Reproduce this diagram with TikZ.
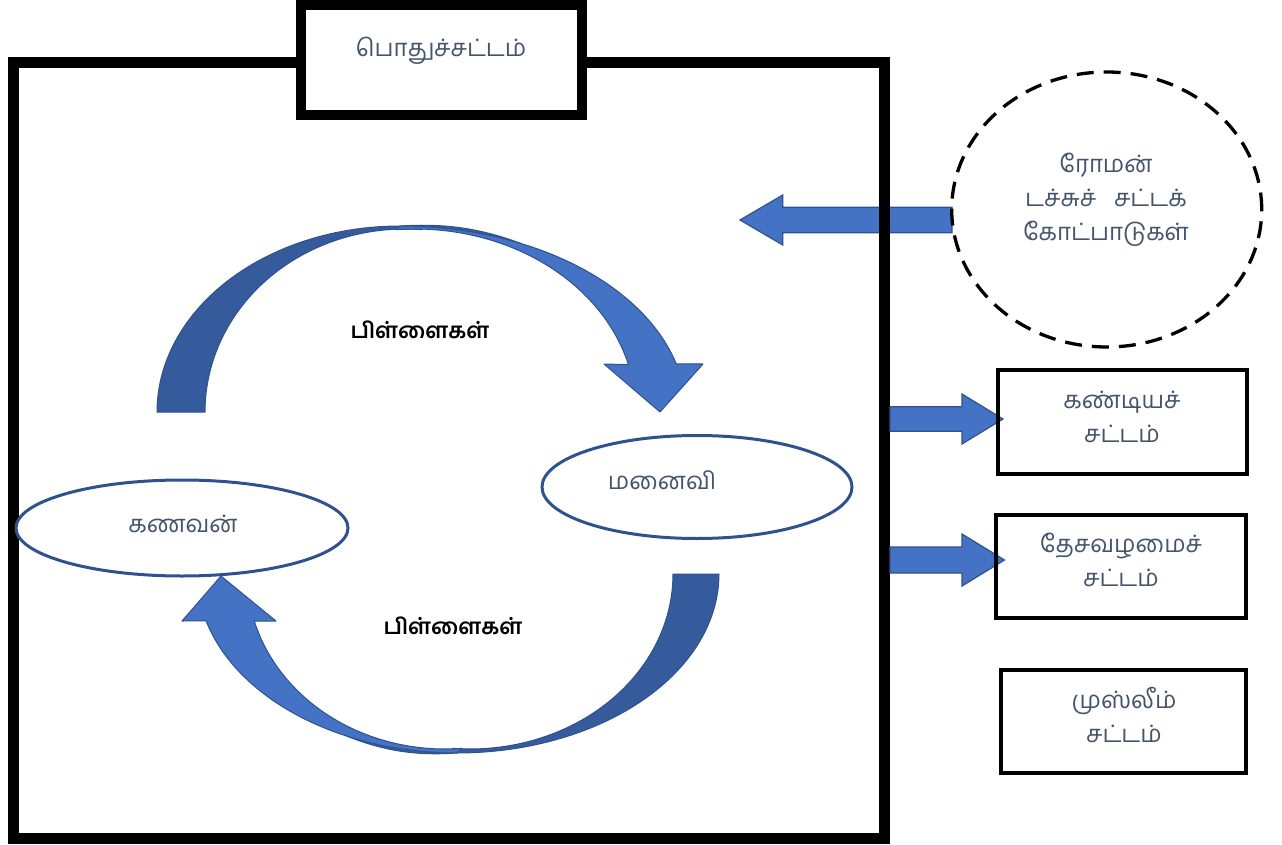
\documentclass[tikz,border=0pt]{standalone}
\usepackage{fontspec}
\newfontfamily\ta[Script=Tamil]{Hind Madurai}
\usetikzlibrary{calc,shapes.geometric}
\definecolor{txtgray}{HTML}{44546A}
\definecolor{blfill}{HTML}{4472C4}
\definecolor{bldark}{HTML}{365B9D}
\definecolor{blline}{HTML}{2F528F}
\tikzset{
 lbl/.style={font=\ta\fontsize{24}{34}\selectfont, text=txtgray, align=center, inner sep=0},
 kidlbl/.style={font=\ta\bfseries\fontsize{22}{26}\selectfont, text=black, inner sep=0},
 lawbox/.style={draw=black, line width=3.4pt, inner sep=0},
 person/.style={ellipse, draw=blline, line width=3pt, fill=white, inner sep=0},
 blockarrow/.style={fill=blfill, draw=blline, line width=1.2pt, line join=miter},
 band/.style={draw=blline, line width=1pt, line join=round},
}
\newcommand\blockarr[5]{%
 \filldraw[blockarrow] let \p1=(#1), \p2=(#2) in
 ({\x1},{\y1+#3pt}) -- ({\x2-(#5)*1pt},{\y1+#3pt}) -- ({\x2-(#5)*1pt},{\y1+#4pt}) -- (\x2,\y2)
 -- ({\x2-(#5)*1pt},{\y1-#4pt}) -- ({\x2-(#5)*1pt},{\y1-#3pt}) -- ({\x1},{\y1-#3pt}) -- cycle;}
\begin{document}
\begin{tikzpicture}[x=1pt,y=-1pt]
\useasboundingbox (0,0) rectangle (1282,845);
\fill[white] (0,0) rectangle (1282,845);
% arrow from the dashed circle into the frame
\coordinate (romtail) at (952,220);
\coordinate (romtip) at (740,220);
\blockarr{romtail}{romtip}{12.7}{25}{-42.7}
% frame
\node[draw=black, line width=11pt, minimum width=871, minimum height=775.5, inner sep=0] (frame) at (449,450.25) {};
% title box
\node[draw=black, line width=10pt, fill=white, minimum width=281, minimum height=110, inner sep=0] (general) at (441.5,60) {};
\node[lbl] (generaltxt) at (441,51) {பொதுச்சட்டம்};
% dashed circle
\node[ellipse, draw=black, dash pattern=on 17pt off 10pt, line width=3.3pt, minimum width=310, minimum height=275, inner sep=0] (roman) at (1106.7,209.5) {};
\node[lbl] (romantxt) at (1106,200) {ரோமன்\\டச்சுச்\hspace{12pt} சட்டக்\\கோட்பாடுகள்};
% right arrows
\coordinate (kandytip) at (1003,419);
\coordinate (desatip) at (1004.5,560);
\blockarr{frame.east |- kandytip}{kandytip}{12.3}{25}{41}
\blockarr{frame.east |- desatip}{desatip}{13}{26}{42.5}
% law boxes
\node[lawbox, minimum width=249, minimum height=104] (kandy) at (1122.5,422) {};
\node[lbl] (kandytxt) at (1122,417) {கண்டியச்\\சட்டம்};
\node[lawbox, minimum width=250, minimum height=103] (desa) at (1121,566.5) {};
\node[lbl] (desatxt) at (1121,559.5) {தேசவழமைச்\\சட்டம்};
\node[lawbox, minimum width=245, minimum height=103] (muslim) at (1123.5,721.5) {};
\node[lbl] (muslimtxt) at (1124,715) {முஸ்லீம்\\சட்டம்};
% top curved arrow (husband -> wife)
\filldraw[band, fill=bldark] plot[domain=180:270,samples=50] ({400+243*cos(\x)},{412+186*sin(\x)})
 -- plot[domain=270:295,samples=25] ({400+286*cos(\x)},{412+186*sin(\x)-2.5*sin(7.2*(\x-270))})
 -- plot[domain=295:270,samples=25] ({400+286*cos(\x)},{412+186*sin(\x)})
 -- plot[domain=275:180,samples=50] ({405+200*cos(\x)},{412+183*sin(\x)}) -- cycle;
\filldraw[band, fill=blfill] plot[domain=270:345,samples=50] ({400+286*cos(\x)},{412+186*sin(\x)})
 -- (703,364) -- (660,412) -- (604,364)
 -- plot[domain=345:265,samples=50] ({415+221*cos(\x)},{412+183*sin(\x)}) -- cycle;
% bottom curved arrow (wife -> husband)
\filldraw[band, fill=bldark] plot[domain=0:90,samples=50] ({457+262*cos(\x)},{574+179*sin(\x)})
 -- plot[domain=90:115,samples=25] ({457+260*cos(\x)},{574+179*sin(\x)+2.5*sin(7.2*(\x-90))})
 -- plot[domain=115:90,samples=25] ({457+260*cos(\x)},{574+179*sin(\x)})
 -- plot[domain=95:0,samples=50] ({470+203*cos(\x)},{574+175*sin(\x)}) -- cycle;
\filldraw[band, fill=blfill] plot[domain=90:164.8,samples=50] ({457+260*cos(\x)},{574+179*sin(\x)})
 -- (182,621) -- (221,576) -- (276,621)
 -- plot[domain=164.4:85,samples=50] ({445+198*cos(\x)},{574+175*sin(\x)}) -- cycle;
% persons
\node[person, minimum width=332, minimum height=96] (husband) at (182,528) {};
\node[lbl] (husbandtxt) at (183,524) {கணவன்};
\node[person, minimum width=310, minimum height=103] (wife) at (697,487) {};
\node[lbl] (wifetxt) at (662,480) {மனைவி};
% children labels
\node[kidlbl] (kidstop) at (420,330) {பிள்ளைகள்};
\node[kidlbl] (kidsbottom) at (453,626) {பிள்ளைகள்};
\end{tikzpicture}
\end{document}
